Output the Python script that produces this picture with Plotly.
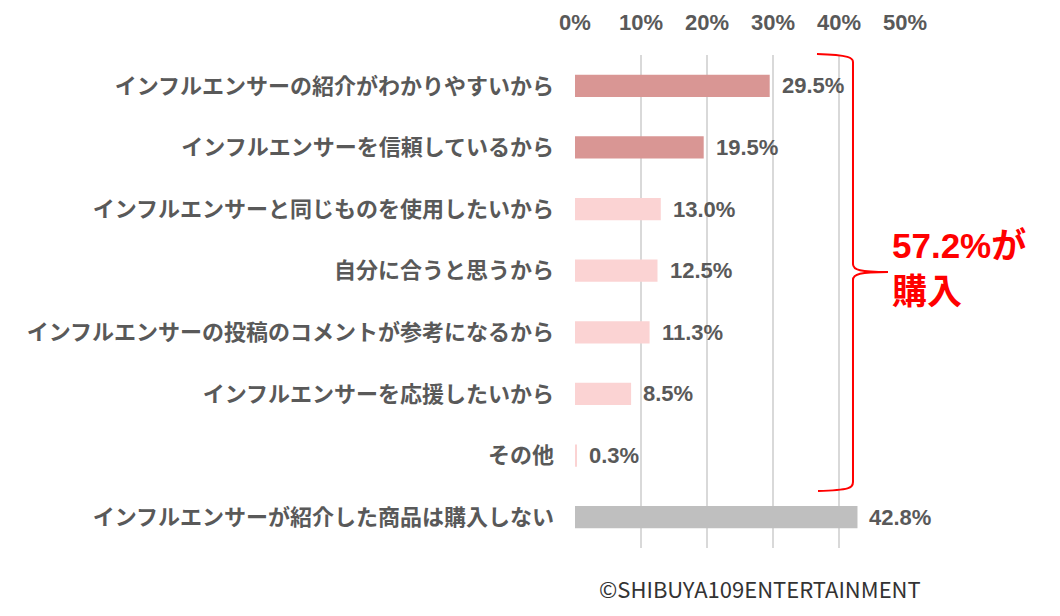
import plotly.graph_objects as go

categories = [
    "インフルエンサーの紹介がわかりやすいから",
    "インフルエンサーを信頼しているから",
    "インフルエンサーと同じものを使用したいから",
    "自分に合うと思うから",
    "インフルエンサーの投稿のコメントが参考になるから",
    "インフルエンサーを応援したいから",
    "その他",
    "インフルエンサーが紹介した商品は購入しない",
]
values = [0.295, 0.195, 0.130, 0.125, 0.113, 0.085, 0.003, 0.428]
value_labels = ["29.5%", "19.5%", "13.0%", "12.5%", "11.3%", "8.5%", "0.3%", "42.8%"]
bar_colors = ["#D99694", "#D99694", "#FBD3D3", "#FBD3D3", "#FBD3D3", "#FBD3D3", "#FBD3D3", "#BFBFBF"]
x_ticks = [0, 0.1, 0.2, 0.3, 0.4, 0.5]
x_tick_labels = ["0%", "10%", "20%", "30%", "40%", "50%"]

OFF = 8  # page body margin
W, H = 1060 - OFF, 616 - OFF
L, T = 575 - OFF, 55 - OFF
R = W - (905 - OFF)
B = H - (548 - OFF)
TXT = "#595959"
NUM_FONT = "Liberation Sans, Arial, sans-serif"
JP_FONT = "Noto Sans CJK JP, sans-serif"

fig = go.Figure()
fig.add_trace(go.Bar(
    x=values, y=categories, orientation="h",
    marker=dict(color=bar_colors, line=dict(width=0)),
    width=0.36, hoverinfo="skip",
))

for c, v, t in zip(categories, values, value_labels):
    fig.add_annotation(x=v, y=c, xref="x", yref="y", text=f"<b>{t}</b>",
                       showarrow=False, xanchor="left", xshift=10,
                       font=dict(family=NUM_FONT, size=22, color=TXT))

def px(xp, yp):
    xp -= OFF
    yp -= OFF
    return (xp - L) / (W - L - R), (H - B - yp) / (H - T - B)

pts = {
    "a": px(817, 54), "b": px(853, 62), "c": px(853, 264),
    "d": px(888, 272), "e": px(853, 280), "f": px(853, 482), "g": px(818, 491),
    "c1": px(850, 55), "c2": px(853, 58), "d1": px(853, 270), "d2": px(860, 272),
    "e1": px(860, 272), "e2": px(853, 274), "g1": px(853, 488), "g2": px(850, 490),
}
def P(k):
    return f"{pts[k][0]:.4f},{pts[k][1]:.4f}"
path = (f"M {P('a')} C {P('c1')} {P('c2')} {P('b')} L {P('c')} "
        f"C {P('d1')} {P('d2')} {P('d')} C {P('e1')} {P('e2')} {P('e')} "
        f"L {P('f')} C {P('g1')} {P('g2')} {P('g')}")
fig.add_shape(type="path", path=path, xref="paper", yref="paper",
              line=dict(color="#FF0000", width=2))

bx, by = px(890, 268)
fig.add_annotation(x=bx, y=by, xref="paper", yref="paper",
                   text="<b>57.2%が<br>購入</b>", showarrow=False,
                   xanchor="left", yanchor="middle", align="left",
                   font=dict(family="Liberation Sans, Noto Sans CJK JP, sans-serif", size=35, color="#FF0000"))

cx, cy = px(760, 588)
fig.add_annotation(x=cx, y=cy, xref="paper", yref="paper",
                   text="©SHIBUYA109ENTERTAINMENT", showarrow=False,
                   xanchor="center", yanchor="middle",
                   font=dict(family=JP_FONT, size=22, color="#333333"))

fig.update_layout(
    width=W, height=H,
    margin=dict(l=L, r=R, t=T, b=B),
    paper_bgcolor="white", plot_bgcolor="white",
    showlegend=False, bargap=0.64,
    font=dict(family=JP_FONT, color=TXT),
    xaxis=dict(side="top", range=[0, 0.5], tickvals=x_ticks,
               ticktext=[f"<b>{t}</b>" for t in x_tick_labels],
               showgrid=True, gridcolor="#D9D9D9", gridwidth=2,
               zeroline=False, showline=False, ticks="",
               tickfont=dict(family=NUM_FONT, size=22, color=TXT),
               ticklabelstandoff=20, fixedrange=True, automargin=False),
    yaxis=dict(autorange="reversed", showgrid=False, zeroline=False,
               showline=False, ticks="", ticklabelstandoff=20,
               tickvals=categories,
               ticktext=[f"<b>{c}</b>" for c in categories],
               tickfont=dict(family=JP_FONT, size=22, color=TXT),
               fixedrange=True, automargin=False),
)

fig.write_html("out.html")
